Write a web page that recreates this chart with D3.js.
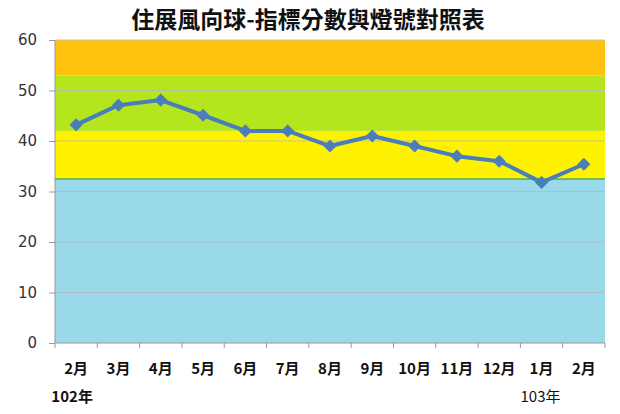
<!DOCTYPE html>
<html>
<head>
<meta charset="utf-8">
<script src="https://cdn.jsdelivr.net/npm/d3@7"></script>
<style>
  body { margin: 0; background: #fff; }
  text { font-family: "Noto Sans CJK TC", "Noto Sans", sans-serif; }
</style>
</head>
<body>
<svg class="svg1" width="620" height="414"></svg>
<script>
    var months = ["2月", "3月", "4月", "5月", "6月", "7月", "8月", "9月", "10月", "11月", "12月", "1月", "2月"];
    var scores = [43.2, 47.1, 48.1, 45.1, 42, 42, 39, 41, 39, 37, 36, 31.8, 35.4];
    var yTicks = [0, 10, 20, 30, 40, 50, 60];
    // light bands: [from, to, colour]
    var bandFrom = [0, 32.5, 42, 53];
    var bandTo = [32.5, 42, 53, 60];
    var bandCol = ["#99d9ea", "#fff200", "#b5e61d", "#ffc20e"];
    var yearLabels = ["102年", "103年"];
    var yearIdx = [0, 11];

    var svg1 = d3.select(".svg1");
    var LEFT = 55, RIGHT = 605, TOP = 40, BOTTOM = 343;

    var scaleX = d3.scaleBand()
        .domain(d3.range(months.length))
        .range([LEFT, RIGHT]);

    var scaleY = d3.scaleLinear()
        .domain([0, 60])
        .range([BOTTOM, TOP]);

    svg1.append("text")
        .attr("x", 308)
        .attr("y", 28)
        .attr("text-anchor", "middle")
        .style("font-size", "23px")
        .style("font-weight", "bold")
        .style("fill", "#111")
        .text("住展風向球-指標分數與燈號對照表");

    svg1.selectAll(".band")
        .data(bandFrom)
        .enter()
        .append("rect")
        .attr("class", "band")
        .attr("x", LEFT)
        .attr("width", RIGHT - LEFT)
        .attr("y", function(d, i) { return scaleY(bandTo[i]); })
        .attr("height", function(d, i) { return scaleY(d) - scaleY(bandTo[i]); })
        .attr("fill", function(d, i) { return bandCol[i]; });

    // green line on top of the blue band
    svg1.append("line")
        .attr("x1", LEFT).attr("x2", RIGHT)
        .attr("y1", scaleY(bandTo[0])).attr("y2", scaleY(bandTo[0]))
        .style("stroke", "#4caf50")
        .style("stroke-width", 1.5);

    svg1.selectAll(".grid")
        .data(yTicks.slice(1))
        .enter()
        .append("line")
        .attr("class", "grid")
        .attr("x1", LEFT).attr("x2", RIGHT)
        .attr("y1", function(d) { return scaleY(d); })
        .attr("y2", function(d) { return scaleY(d); })
        .style("stroke", "#b8b8b8")
        .style("stroke-width", 1)
        .style("opacity", 0.8);

    var yAxis = d3.axisLeft(scaleY)
        .tickValues(yTicks)
        .tickSize(6)
        .tickPadding(12);

    var gy = svg1.append("g")
        .attr("transform", "translate(" + LEFT + ",0)")
        .call(yAxis);
    gy.select(".domain").style("stroke", "#999").attr("d", "M0," + TOP + "V" + BOTTOM);
    gy.selectAll("line").style("stroke", "#999");
    gy.selectAll("text")
        .style("font-size", "15px")
        .style("fill", "#333")
        .style("font-family", "'DejaVu Sans', sans-serif");

    // x axis: ticks between categories
    var gx = svg1.append("g");
    gx.append("line")
        .attr("x1", LEFT).attr("x2", RIGHT)
        .attr("y1", BOTTOM).attr("y2", BOTTOM)
        .style("stroke", "#999");
    gx.selectAll(".xtick")
        .data(d3.range(months.length + 1))
        .enter()
        .append("line")
        .attr("class", "xtick")
        .attr("x1", function(d) { return LEFT + d * scaleX.step(); })
        .attr("x2", function(d) { return LEFT + d * scaleX.step(); })
        .attr("y1", BOTTOM).attr("y2", BOTTOM + 5)
        .style("stroke", "#999");
    gx.selectAll(".xlab")
        .data(months)
        .enter()
        .append("text")
        .attr("class", "xlab")
        .attr("x", function(d, i) { return scaleX(i) + scaleX.bandwidth() / 2; })
        .attr("y", 374)
        .attr("text-anchor", "middle")
        .style("font-size", "15px")
        .style("font-weight", "bold")
        .style("fill", "#111")
        .text(function(d) { return d; });

    svg1.selectAll(".year")
        .data(yearLabels)
        .enter()
        .append("text")
        .attr("class", "year")
        .attr("x", function(d, i) { return scaleX(yearIdx[i]) + scaleX.bandwidth() / 2 - (i == 0 ? 4 : 1); })
        .attr("y", 402)
        .attr("text-anchor", "middle")
        .style("font-size", "15px")
        .style("font-weight", function(d, i) { return i == 0 ? "bold" : "normal"; })
        .style("fill", "#111")
        .text(function(d) { return d; });

    var line = d3.line()
        .x(function(d, i) { return scaleX(i) + scaleX.bandwidth() / 2; })
        .y(function(d) { return scaleY(d); });

    svg1.append("path")
        .datum(scores)
        .attr("d", line)
        .style("fill", "none")
        .style("stroke", "#4a7ebb")
        .style("stroke-width", 4)
        .style("stroke-linejoin", "round");

    svg1.selectAll(".pt")
        .data(scores)
        .enter()
        .append("path")
        .attr("class", "pt")
        .attr("d", d3.symbol().type(d3.symbolDiamond2).size(110))
        .attr("transform", function(d, i) {
            return "translate(" + (scaleX(i) + scaleX.bandwidth() / 2) + "," + scaleY(d) + ")";
        })
        .style("fill", "#4a7ebb");
</script>
</body>
</html>
